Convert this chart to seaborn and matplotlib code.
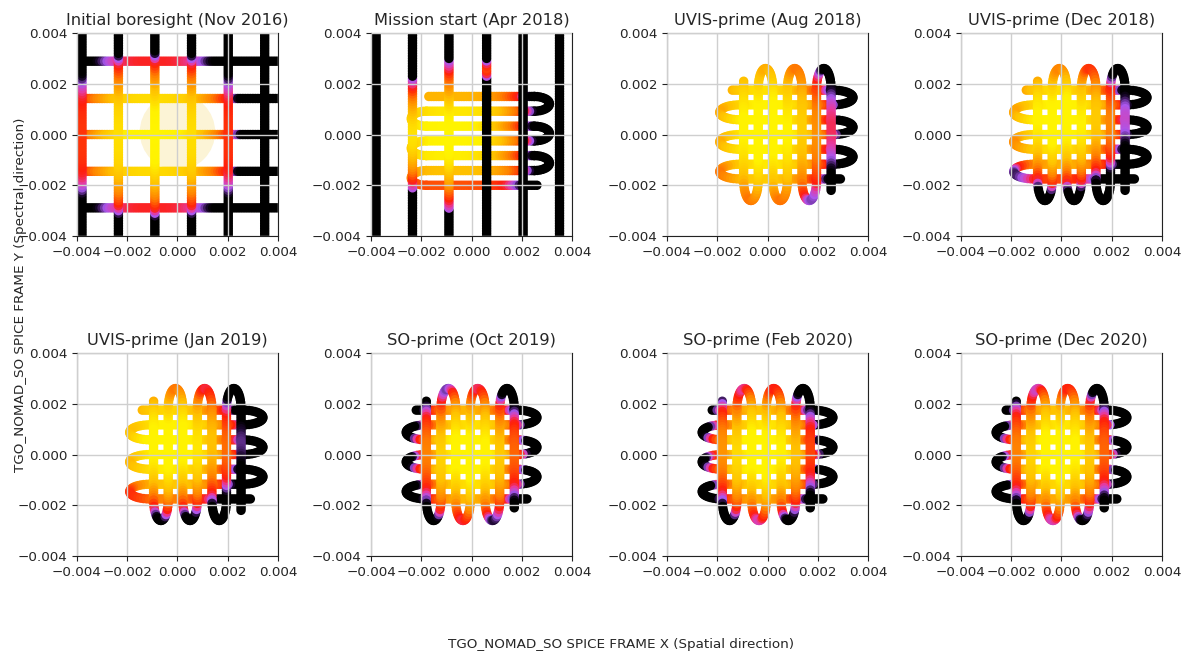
import numpy as np
import pandas as pd
import matplotlib
matplotlib.use("Agg")
import matplotlib.pyplot as plt
import seaborn as sns
from matplotlib.colors import LinearSegmentedColormap
from matplotlib.patches import Circle

# ---------------- data ----------------
TITLES = ["Initial boresight (Nov 2016)", "Mission start (Apr 2018)",
          "UVIS-prime (Aug 2018)", "UVIS-prime (Dec 2018)",
          "UVIS-prime (Jan 2019)", "SO-prime (Oct 2019)",
          "SO-prime (Feb 2020)", "SO-prime (Dec 2020)"]
SCAN_TYPE = ["grid", "ms", "uvis", "uvis", "uvis", "so", "so", "so"]
TICKS = [-0.004, -0.002, 0.0, 0.002, 0.004]

# solar signal footprint per panel (centre, half-widths, shape exponent)
SIG_CX = [-0.0009, -0.0008, -0.0001, -0.0001, -0.0003, -0.0001, -0.0002, -0.0001]
SIG_CY = [0.0, 0.0, 0.0002, 0.00055, 0.0004, 0.0, 0.0001, 0.0001]
SIG_AX = [0.00305, 0.0029, 0.0026, 0.0025, 0.0026, 0.00205, 0.00205, 0.00205]
SIG_AY = [0.0029, 0.0022, 0.0034, 0.0025, 0.0026, 0.0026, 0.0026, 0.0026]
SIG_P = [3, 4, 2, 2, 2, 2, 2, 2]
R_KNOTS = [0.0, 0.35, 0.65, 0.85, 1.0, 1.07, 1.13]
V_KNOTS = [1.0, 0.95, 0.8, 0.6, 0.42, 0.24, 0.0]

# initial boresight raster lines
GRID_X = [-0.0038, -0.00235, -0.0009, 0.00056, 0.00202, 0.00347]
GRID_Y = [0.00289, 0.00142, 0.0, -0.00145, -0.00289]
GRID_SPAN = [-0.0045, 0.0045]
BORESIGHT_CIRCLE = [0.0, 0.0001, 0.0015]

# mission start vertical lines (signal segment lo/hi and peak)
MS_VX = [-0.0038, -0.00235, -0.0009, 0.0006, 0.00205, 0.0035]
MS_SEG_LO = [0.0, -0.0021, -0.0029, 0.0023, 0.0, 0.0]
MS_SEG_HI = [0.0, 0.0022, 0.0029, 0.0029, 0.0, 0.0]
MS_PEAK = [0.0, 0.9, 1.0, 0.5, 0.0, 0.0]
MS_SPAN = [-0.0045, 0.0045]

# serpentine scans: leg levels and [lo, hi, turn depth, start, end]
H_LEVELS_MS = [0.0015, 0.00092, 0.00033, -0.00025, -0.00083, -0.00142, -0.002]
H_LIMITS_MS = [-0.0018, 0.0025, 0.0006, -0.0017, 0.0026]
H_LEVELS_UVIS = [0.00175, 0.00117, 0.00058, 0.0, -0.00058, -0.00117, -0.00175]
H_LIMITS_UVIS = [-0.0011, 0.0026, 0.0008, -0.0014, 0.0029]
V_LEVELS_UVIS = [-0.00095, -0.00037, 0.00021, 0.00079, 0.00137, 0.00195, 0.00253]
V_LIMITS_UVIS = [0.0018, -0.0018, 0.0008, 0.0021, -0.0022]
H_LEVELS_SO = [0.00175, 0.00117, 0.00058, 0.0, -0.00058, -0.00117, -0.00175]
H_LIMITS_SO = [-0.0018, 0.0018, 0.0008, -0.0022, 0.0022]
V_LEVELS_SO = [-0.0018, -0.00122, -0.00063, -0.00005, 0.00054, 0.00112, 0.0017]
V_LIMITS_SO = [0.0018, -0.0018, 0.0008, 0.0021, -0.0021]

STEP = 0.0001

# ---------------- helpers ----------------
def path_line(a, b):
    n = int(abs(b - a) / STEP) + 2
    return np.linspace(a, b, n)


def serpentine(levels, limits):
    lo, hi, depth, start, end = limits
    s0 = np.sign(hi - lo)
    along, across = [], []
    n = len(levels)
    for i, lev in enumerate(levels):
        fwd = (i % 2 == 0)
        a = start if i == 0 else (lo if fwd else hi)
        b = end if i == n - 1 else (hi if fwd else lo)
        t = path_line(a, b)
        along.append(t)
        across.append(np.full(t.size, lev))
        if i < n - 1:
            nxt = levels[i + 1]
            mid, half = (lev + nxt) / 2, (nxt - lev) / 2
            m = int(np.pi * np.hypot(depth, half) / np.sqrt(2) / STEP) + 3
            phi = np.linspace(0, np.pi, m)
            s = s0 if fwd else -s0
            along.append(b + s * depth * np.sin(phi))
            across.append(mid - half * np.cos(phi))
    return np.concatenate(along), np.concatenate(across)


def signal(x, y, k):
    p = SIG_P[k]
    dx = np.abs(x - SIG_CX[k]) / SIG_AX[k]
    dy = np.abs(y - SIG_CY[k]) / SIG_AY[k]
    r = (dx ** p + dy ** p) ** (1.0 / p)
    return np.interp(r, R_KNOTS, V_KNOTS, right=0.0)


def panel_frame(k):
    typ = SCAN_TYPE[k]
    xs, ys, vs = [], [], []
    if typ == "grid":
        for yv in GRID_Y:
            x = path_line(*GRID_SPAN)
            y = np.full(x.size, yv)
            xs.append(x); ys.append(y); vs.append(signal(x, y, k))
        for xv in GRID_X:
            y = path_line(*GRID_SPAN)
            x = np.full(y.size, xv)
            xs.append(x); ys.append(y); vs.append(signal(x, y, k))
    elif typ == "ms":
        x, y = serpentine(H_LEVELS_MS, H_LIMITS_MS)
        xs.append(x); ys.append(y); vs.append(signal(x, y, k))
        for xv, lo, hi, pk in zip(MS_VX, MS_SEG_LO, MS_SEG_HI, MS_PEAK):
            y = path_line(*MS_SPAN)
            x = np.full(y.size, xv)
            if pk > 0:
                mid, half = (lo + hi) / 2, (hi - lo) / 2
                u = (y - mid) / half
                v = np.where(np.abs(u) <= 1, pk - (pk - 0.26) * u ** 2, 0.0)
            else:
                v = np.zeros(y.size)
            xs.append(x); ys.append(y); vs.append(v)
    else:
        if typ == "uvis":
            hl, hlim, vl, vlim = H_LEVELS_UVIS, H_LIMITS_UVIS, V_LEVELS_UVIS, V_LIMITS_UVIS
        else:
            hl, hlim, vl, vlim = H_LEVELS_SO, H_LIMITS_SO, V_LEVELS_SO, V_LIMITS_SO
        x, y = serpentine(hl, hlim)
        xs.append(x); ys.append(y); vs.append(signal(x, y, k))
        y, x = serpentine(vl, vlim)
        xs.append(x); ys.append(y); vs.append(signal(x, y, k))
    return pd.DataFrame({"x": np.concatenate(xs), "y": np.concatenate(ys),
                         "v": np.round(np.concatenate(vs), 3)})


# ---------------- plotting ----------------
sns.set_style("ticks")
plt.rcParams["font.family"] = ["DejaVu Sans"]
plt.rcParams["axes.edgecolor"] = "#222222"

CMAP = LinearSegmentedColormap.from_list(
    "scan", [(0.0, "#000000"), (0.10, "#1c0830"), (0.24, "#a957ef"),
             (0.34, "#e63aa0"), (0.44, "#ff1e0a"), (0.62, "#ff8200"),
             (0.80, "#ffc000"), (0.95, "#fff200"), (1.0, "#fff500")])

LEFTS = [0.0651, 0.3139, 0.5643, 0.8130]
BOTTOMS = [0.6391, 0.1498]
W, H = 0.1701, 0.3104

fig = plt.figure(figsize=(11.82, 6.54), dpi=100)
for k, title in enumerate(TITLES):
    ax = fig.add_axes([LEFTS[k % 4], BOTTOMS[k // 4], W, H])
    df = panel_frame(k)
    if SCAN_TYPE[k] == "grid":
        cx, cy, cr = BORESIGHT_CIRCLE
        ax.add_patch(Circle((cx, cy), cr, facecolor="#fcf4d6", edgecolor="none", zorder=0.5))
    sns.scatterplot(data=df, x="x", y="y", hue="v", palette=CMAP, hue_norm=(0, 1),
                    s=46, linewidth=0, edgecolor="none", legend=False, ax=ax)
    ax.set_xlim(-0.004, 0.004)
    ax.set_ylim(-0.004, 0.004)
    ax.set_xticks(TICKS)
    ax.set_yticks(TICKS)
    ax.set_xlabel("")
    ax.set_ylabel("")
    ax.set_axisbelow(False)
    ax.grid(True, color="#cfcfcf", linewidth=1.0)
    ax.tick_params(labelsize=9.7, length=3.5, width=0.8, color="#222222")
    ax.set_title(title, fontsize=11.7, pad=6)
    for sp in ax.spines.values():
        sp.set_linewidth(0.8)

fig.text(0.017, 0.549, "TGO_NOMAD_SO SPICE FRAME Y (Spectral direction)",
         rotation=90, ha="center", va="center", fontsize=9.7)
fig.text(0.5254, 0.0138, "TGO_NOMAD_SO SPICE FRAME X (Spatial direction)",
         ha="center", va="center", fontsize=9.7)

fig.savefig("out.png", dpi=100)
